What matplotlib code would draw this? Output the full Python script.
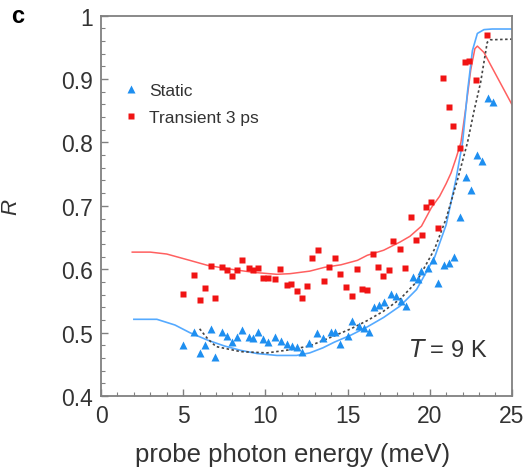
import numpy as np
import matplotlib
matplotlib.use("Agg")
import matplotlib.pyplot as plt
from matplotlib.ticker import MultipleLocator

plt.rcParams['font.family'] = ['Liberation Sans', 'DejaVu Sans']

# données statiques (triangles bleus)
static_x = [4.99, 5.66, 6.03, 6.33, 6.70, 6.94, 7.38, 7.68, 7.99, 8.29, 8.60, 9.02,
            9.27, 9.57, 9.88, 10.18, 10.61, 10.97, 11.34, 11.65, 11.95, 12.26, 12.68,
            13.17, 13.48, 13.97, 14.21, 14.57, 15.0, 15.3, 15.67, 15.98, 16.28, 16.59,
            16.89, 17.2, 17.62, 17.93, 18.23, 18.54, 18.96, 19.27, 19.45, 19.88, 20.18,
            20.49, 20.85, 21.16, 21.46, 21.83, 22.2, 22.5, 22.87, 23.17, 23.54, 23.84]
static_y = [0.480, 0.501, 0.468, 0.480, 0.506, 0.462, 0.501, 0.495, 0.485, 0.493, 0.504, 0.493,
            0.491, 0.501, 0.490, 0.485, 0.493, 0.487, 0.482, 0.479, 0.477, 0.469, 0.484,
            0.499, 0.491, 0.501, 0.501, 0.482, 0.495, 0.518, 0.510, 0.507, 0.501, 0.540,
            0.544, 0.548, 0.561, 0.558, 0.550, 0.542, 0.588, 0.585, 0.597, 0.602, 0.615,
            0.578, 0.607, 0.610, 0.619, 0.682, 0.745, 0.725, 0.780, 0.771, 0.870, 0.864]

# transitoire 3 ps (carrés rouges)
trans_x = [5.0, 5.67, 6.03, 6.33, 6.94, 6.70, 7.38, 7.68, 7.99, 8.29, 8.60, 9.02, 9.27,
           9.57, 9.88, 10.18, 10.61, 10.91, 11.34, 11.58, 11.95, 12.26, 12.56, 12.84,
           13.2, 13.57, 13.87, 14.24, 14.54, 14.91, 15.27, 15.58, 15.88, 16.19, 16.55,
           16.86, 17.16, 17.53, 17.78, 18.21, 18.52, 18.88, 19.18, 19.55, 19.79, 20.09,
           20.52, 20.82, 21.19, 21.44, 21.87, 22.17, 22.41, 22.84, 23.5]
trans_y = [0.561, 0.591, 0.551, 0.570, 0.555, 0.605, 0.603, 0.599, 0.589, 0.599, 0.615, 0.602, 0.599,
           0.602, 0.586, 0.586, 0.585, 0.600, 0.575, 0.577, 0.566, 0.555, 0.574, 0.618,
           0.630, 0.581, 0.603, 0.618, 0.592, 0.572, 0.558, 0.600, 0.569, 0.567, 0.624,
           0.603, 0.589, 0.599, 0.644, 0.632, 0.602, 0.682, 0.646, 0.654, 0.698, 0.706,
           0.665, 0.902, 0.856, 0.826, 0.791, 0.927, 0.928, 0.898, 0.969]

# courbes de modèle
fit_trans_x = [1.9, 3, 4, 5.4, 6.5, 7.9, 9.3, 10.7, 11.5, 12.7, 13.6, 14.6, 15.6, 16.2, 17.2,
               18.2, 18.8, 19.5, 20.1, 20.6, 21.0, 21.3, 21.6, 21.9, 22.2, 22.5, 22.75, 22.9,
               23.3, 25]
fit_trans_y = [0.627, 0.627, 0.624, 0.614, 0.606, 0.600, 0.595, 0.592, 0.593, 0.597, 0.603, 0.607,
               0.614, 0.622, 0.630, 0.643, 0.652, 0.668, 0.697, 0.715, 0.735, 0.752, 0.775, 0.800,
               0.855, 0.915, 0.948, 0.952, 0.942, 0.860]

fit_static_x = [2.0, 3.4, 4.5, 5.4, 6.5, 7.5, 8.5, 9.5, 10.7, 11.9, 12.7, 13.5, 14.2, 15.2,
                16.2, 17.2, 18.2, 19.2, 20.3, 21.0, 21.6, 22.0, 22.3, 22.6, 22.9, 23.3, 23.8, 25]
fit_static_y = [0.521, 0.521, 0.512, 0.500, 0.488, 0.479, 0.472, 0.467, 0.464, 0.464, 0.468, 0.476,
                0.485, 0.496, 0.509, 0.524, 0.542, 0.568, 0.619, 0.670, 0.742, 0.800, 0.880, 0.945,
                0.972, 0.978, 0.979, 0.979]

fit_dot_x = [6.0, 6.5, 7.0, 8.5, 10.1, 11.5, 12.7, 14.2, 15.2, 16.2, 17.2, 18.2, 19.2, 20.3,
             21.0, 21.7, 22.3, 22.7, 23.1, 23.5, 23.7, 25]
fit_dot_y = [0.506, 0.490, 0.478, 0.470, 0.468, 0.473, 0.479, 0.495, 0.506, 0.519, 0.534, 0.553,
             0.580, 0.632, 0.680, 0.742, 0.800, 0.850, 0.895, 0.958, 0.962, 0.963]

bleu = '#1e8ff0'
rouge = '#f01414'
gris = '#808080'

fig = plt.figure(figsize=(5.25, 4.77), dpi=100)
ax = fig.add_axes([0.1924, 0.1677, 0.7826, 0.7973])

ax.plot(fit_trans_x, fit_trans_y, color='#ff6060', lw=1.1)
ax.plot(fit_static_x, fit_static_y, color='#55aaff', lw=1.2)
ax.plot(fit_dot_x, fit_dot_y, color='#444444', lw=1.2, ls=(0, (1.5, 1.5)))

ax.plot(static_x, static_y, '^', color=bleu, ms=6, mec='none', label='Static')
ax.plot(trans_x, trans_y, 's', color=rouge, ms=5, mec='none', label='Transient 3 ps')

ax.set_xlim(0, 25)
ax.set_ylim(0.4, 1.0)
ax.xaxis.set_major_locator(MultipleLocator(5))
ax.xaxis.set_minor_locator(MultipleLocator(1))
ax.yaxis.set_major_locator(MultipleLocator(0.1))
ax.yaxis.set_minor_locator(MultipleLocator(0.02))
ax.set_yticks([0.4, 0.5, 0.6, 0.7, 0.8, 0.9, 1.0])
ax.set_yticklabels(['0.4', '0.5', '0.6', '0.7', '0.8', '0.9', '1'])

for s in ax.spines.values():
    s.set_color(gris)
    s.set_linewidth(1.3)
ax.tick_params(which='both', direction='in', color=gris, labelsize=16.5, pad=6,
               top=False, right=False, labelcolor='#333333')
ax.tick_params(which='major', length=5, width=1)
ax.tick_params(which='minor', length=3, width=0.8)

ax.set_xlabel('probe photon energy (meV)', fontsize=18.5, color='#333333')
ax.xaxis.set_label_coords(0.467, -0.122)
ax.set_ylabel('R', fontsize=16, style='italic', color='#333333')
ax.yaxis.set_label_coords(-0.195, 0.5)

leg = ax.legend(loc='upper left', bbox_to_anchor=(0.04, 0.842), frameon=False, fontsize=12.5,
                handlelength=0.8, handletextpad=0.6, labelspacing=0.68, borderaxespad=0)
for t in leg.get_texts():
    t.set_color('#333333')

ax.text(0.94, 0.12, '$T$ = 9 K', transform=ax.transAxes, ha='right', va='center',
        fontsize=17, color='#333333')
fig.text(0.022, 0.966, 'c', fontsize=17, fontweight='bold', va='center', ha='left')

fig.savefig('out.png', dpi=100)
